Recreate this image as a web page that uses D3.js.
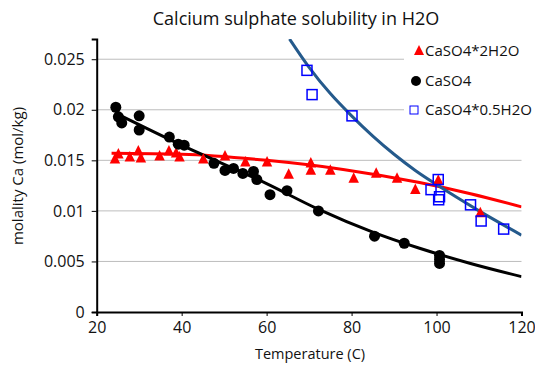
<!DOCTYPE html>
<html>
<head>
<meta charset="utf-8">
<script src="https://cdn.jsdelivr.net/npm/d3@7"></script>
<style>
  body { margin: 0; background: #fff; }
  text { font-family: "Open Sans", "Noto Sans", sans-serif; fill: #111; }
</style>
</head>
<body>
<div id="chart"></div>
<script>
// CaSO4*2H2O (gypsum)
const gypsumT = [24.3, 25.1, 27.8, 29.8, 30.4, 34.8, 37.0, 38.7, 39.5, 45.1, 50.2, 55.0, 60.1, 65.2, 70.4, 70.4, 75.0, 80.5, 85.8, 90.7, 95.0, 100.4, 110.3]
const gypsumM = [0.0152, 0.0157, 0.0154, 0.0160, 0.0153, 0.0155, 0.0160, 0.0158, 0.0154, 0.0152, 0.0155, 0.0149, 0.0149, 0.0137, 0.0148, 0.0141, 0.0141, 0.0133, 0.0138, 0.0133, 0.0122, 0.0131, 0.0099]

// CaSO4 (anhydrite)
const anhydriteT = [24.5, 25.1, 25.9, 30.0, 30.0, 37.1, 39.2, 40.6, 47.6, 50.2, 52.2, 54.4, 56.9, 57.7, 60.8, 64.8, 72.2, 85.4, 92.4, 100.7, 100.7, 100.7]
const anhydriteM = [0.02025, 0.0193, 0.0187, 0.0194, 0.0180, 0.0173, 0.0166, 0.0165, 0.0147, 0.0140, 0.0142, 0.0137, 0.0139, 0.0131, 0.0116, 0.0120, 0.0100, 0.0075, 0.0068, 0.0056, 0.0052, 0.0048]

// CaSO4*0.5H2O (hemihydrate)
const hemiT = [69.5, 70.7, 80.1, 98.7, 100.4, 100.7, 100.5, 108.0, 110.5, 115.8]
const hemiM = [0.0239, 0.0215, 0.0194, 0.0121, 0.0131, 0.0114, 0.0111, 0.0106, 0.0090, 0.0082]

// trend lines
const gypsumTrendT = [23.5, 40, 60, 78, 96, 108, 120]
const gypsumTrendM = [0.0157, 0.0156, 0.0150, 0.0141, 0.0128, 0.0117, 0.0104]
const anhydriteTrendT = [24.3, 40, 60, 72, 85, 96, 108, 120]
const anhydriteTrendM = [0.0197, 0.0165, 0.0127, 0.0102, 0.0079, 0.0063, 0.0048, 0.0035]
const hemiTrendT = [65.4, 70, 75, 80, 85, 90, 95, 100, 110, 120]
const hemiTrendM = [0.0270, 0.0242, 0.0216, 0.0194, 0.0174, 0.0156, 0.0140, 0.0126, 0.0100, 0.0076]

const xTicks = [20, 40, 60, 80, 100, 120]
const yTicks = [0, 0.005, 0.01, 0.015, 0.02, 0.025]

const legendNames = ['CaSO4*2H2O', 'CaSO4', 'CaSO4*0.5H2O']

const width = 535
const height = 365
const x = d3.scaleLinear().domain([20, 120]).range([96.7, 521.5])
const y = d3.scaleLinear().domain([0, 0.027]).range([312, 39])

const zip = (a, b) => a.map((v, i) => [v, b[i]])

// triangle centred on its bounding box, like the spreadsheet markers
const boxTriangle = {
  draw(context, size) {
    const s = Math.sqrt(size)
    context.moveTo(0, -s / 2)
    context.lineTo(s / 2, s / 2)
    context.lineTo(-s / 2, s / 2)
    context.closePath()
  }
}

const svg = d3.select('#chart')
  .append('svg')
  .attr('width', width)
  .attr('height', height)

svg.append('defs').append('clipPath')
  .attr('id', 'plot')
  .append('rect')
  .attr('x', x(20))
  .attr('y', y(0.027))
  .attr('width', x(120) - x(20))
  .attr('height', y(0) - y(0.027))

drawGrid()
drawAxes()

const line = d3.line()
  .x(d => x(d[0]))
  .y(d => y(d[1]))
  .curve(d3.curveMonotoneX)

const plot = svg.append('g').attr('clip-path', 'url(#plot)')

plot.append('path')
  .attr('d', line(zip(gypsumTrendT, gypsumTrendM)))
  .attr('fill', 'none')
  .attr('stroke', '#ff0000')
  .attr('stroke-width', 3)

plot.append('path')
  .attr('d', line(zip(anhydriteTrendT, anhydriteTrendM)))
  .attr('fill', 'none')
  .attr('stroke', '#000')
  .attr('stroke-width', 3)

plot.append('path')
  .attr('d', line(zip(hemiTrendT, hemiTrendM)))
  .attr('fill', 'none')
  .attr('stroke', '#255a8c')
  .attr('stroke-width', 3)

svg.append('g').selectAll('path')
  .data(zip(gypsumT, gypsumM))
  .enter()
  .append('path')
  .attr('d', d3.symbol(boxTriangle, 110))
  .attr('transform', d => `translate(${x(d[0])},${y(d[1])})`)
  .attr('fill', '#ff0000')

svg.append('g').selectAll('circle')
  .data(zip(anhydriteT, anhydriteM))
  .enter()
  .append('circle')
  .attr('cx', d => x(d[0]))
  .attr('cy', d => y(d[1]))
  .attr('r', 5.5)
  .attr('fill', '#000')

svg.append('g').selectAll('rect')
  .data(zip(hemiT, hemiM))
  .enter()
  .append('rect')
  .attr('x', d => x(d[0]) - 5)
  .attr('y', d => y(d[1]) - 5)
  .attr('width', 10)
  .attr('height', 10)
  .attr('fill', 'none')
  .attr('stroke', '#0000ff')
  .attr('stroke-width', 1.5)

drawLegend()
drawTitles()

function drawGrid() {
  svg.append('g').selectAll('line')
    .data(yTicks.filter(t => t > 0))
    .enter()
    .append('line')
    .attr('x1', x(20))
    .attr('x2', x(120))
    .attr('y1', d => y(d))
    .attr('y2', d => y(d))
    .attr('stroke', '#bdbdbd')
    .attr('stroke-width', 1)
}

function drawAxes() {
  const xAxis = svg.append('g')
    .attr('transform', `translate(0,${y(0)})`)
    .call(d3.axisBottom(x).tickValues(xTicks).tickSize(4).tickPadding(6).tickFormat(d3.format('d')))
  xAxis.select('.domain').attr('stroke', '#000').attr('stroke-width', 2)
  xAxis.selectAll('.tick line').attr('stroke', '#000')
  xAxis.selectAll('text').attr('font-size', 16).attr('font-family', '"Open Sans", sans-serif').attr('fill', '#111')

  const yAxis = svg.append('g')
    .attr('transform', `translate(${x(20)},0)`)
    .call(d3.axisLeft(y).tickValues(yTicks).tickSize(5).tickPadding(7).tickFormat(d => d === 0 ? '0' : String(+d.toFixed(3))))
  yAxis.select('.domain').attr('stroke', '#000').attr('stroke-width', 2)
  yAxis.selectAll('.tick line').attr('stroke', '#000')
  yAxis.selectAll('text').attr('font-size', 16).attr('font-family', '"Open Sans", sans-serif').attr('fill', '#111')
}

function drawLegend() {
  const g = svg.append('g')
  g.append('rect')
    .attr('x', 404)
    .attr('y', 34)
    .attr('width', 131)
    .attr('height', 90)
    .attr('fill', '#fff')

  const rows = [51, 81, 110]
  g.append('path')
    .attr('d', d3.symbol(boxTriangle, 100))
    .attr('transform', `translate(419,${rows[0] - 1})`)
    .attr('fill', '#ff0000')
  g.append('circle')
    .attr('cx', 416)
    .attr('cy', rows[1])
    .attr('r', 5)
    .attr('fill', '#000')
  g.append('rect')
    .attr('x', 410)
    .attr('y', rows[2] - 4)
    .attr('width', 8)
    .attr('height', 8)
    .attr('fill', 'none')
    .attr('stroke', '#0000ff')
    .attr('stroke-width', 1)

  g.selectAll('text')
    .data(legendNames)
    .enter()
    .append('text')
    .attr('x', 425)
    .attr('y', (d, i) => rows[i])
    .attr('dy', '0.35em')
    .attr('font-size', 15)
    .text(d => d)
}

function drawTitles() {
  svg.append('text')
    .attr('x', 296)
    .attr('y', 25)
    .attr('text-anchor', 'middle')
    .attr('font-size', 18)
    .text('Calcium sulphate solubility in H2O')

  svg.append('text')
    .attr('x', 310)
    .attr('y', 359)
    .attr('text-anchor', 'middle')
    .attr('font-size', 14.5)
    .text('Temperature (C)')

  svg.append('text')
    .attr('transform', `translate(23,176) rotate(-90)`)
    .attr('text-anchor', 'middle')
    .attr('font-size', 15)
    .text('molality Ca (mol/kg)')
}
</script>
</body>
</html>
